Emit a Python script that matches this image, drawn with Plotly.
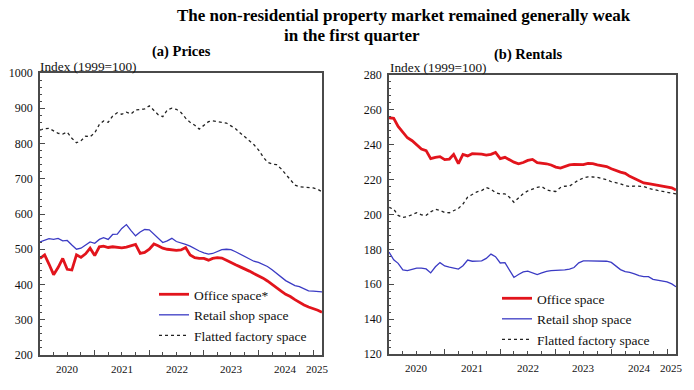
import pandas as pd
import plotly.graph_objects as go

# ---------------- data ----------------
MONTHS = pd.date_range("2020-01-01", periods=63, freq="MS")

price_office = [474, 484, 458, 428, 448, 474, 443, 441, 484, 477, 487, 503, 482, 507, 509, 505,
                507, 505, 504, 506, 509, 514, 488, 491, 500, 515, 510, 503, 500, 498, 497, 498,
                505, 484, 476, 474, 474, 469, 474, 476, 475, 469, 462, 456, 450, 445, 438, 431,
                425, 418, 410, 401, 391, 381, 372, 366, 357, 349, 342, 336, 332, 327, 321]
price_retail = [521, 526, 530, 528, 531, 524, 525, 512, 500, 503, 512, 521, 517, 528, 533, 528,
                542, 543, 559, 570, 553, 538, 549, 556, 555, 543, 530, 519, 524, 531, 522, 519,
                514, 509, 501, 495, 490, 486, 488, 494, 499, 500, 499, 493, 486, 478, 471, 466,
                463, 457, 451, 442, 431, 420, 411, 404, 397, 394, 388, 382, 381, 380, 379]
price_factory = [838, 842, 843, 836, 829, 827, 832, 815, 802, 808, 821, 819, 830, 854, 864, 860,
                 878, 887, 883, 889, 884, 895, 897, 898, 907, 895, 882, 876, 895, 900, 897, 888,
                 872, 860, 852, 841, 852, 862, 864, 862, 861, 858, 850, 842, 830, 820, 808, 797,
                 782, 762, 747, 742, 740, 728, 712, 697, 682, 677, 676, 675, 674, 670, 663]

rent_office = [255.5, 255.2, 250.5, 247.0, 244.0, 242.3, 240.2, 237.5, 236.6, 232.0, 232.8, 233.2,
               231.5, 231.8, 234.5, 229.2, 234.5, 233.6, 234.9, 234.8, 234.6, 234.1, 234.5, 235.6,
               232.0, 232.8, 231.3, 230.0, 229.1, 229.8, 231.0, 231.6, 229.7, 229.5, 229.1, 228.4,
               227.2, 226.6, 227.5, 228.4, 228.7, 228.6, 228.6, 229.3, 229.2, 228.5, 227.9, 227.5,
               226.2, 225.0, 224.3, 223.6, 221.9, 220.7, 219.2, 218.1, 217.7, 217.3, 216.8, 216.5,
               216.1, 215.3, 214.0]
rent_retail = [178.5, 174.0, 172.0, 168.2, 167.8, 168.6, 169.2, 169.2, 168.8, 166.5, 170.0, 172.4,
               170.5, 169.8, 169.2, 168.7, 170.6, 173.9, 173.2, 173.2, 173.4, 174.8, 177.3, 175.8,
               172.2, 172.4, 168.2, 163.9, 165.6, 167.1, 167.5, 166.5, 165.6, 166.5, 167.4, 167.8,
               167.8, 167.8, 168.2, 168.7, 169.6, 172.3, 173.4, 173.4, 173.4, 173.4, 173.3, 173.2,
               172.5, 170.4, 168.4, 167.2, 166.8, 165.9, 164.9, 164.4, 164.4, 162.8, 162.2, 162.0,
               161.3, 160.2, 158.6]
rent_factory = [204.1, 203.0, 199.5, 198.3, 198.8, 199.7, 201.0, 199.8, 199.5, 201.5, 203.0, 202.3,
                201.2, 201.0, 202.0, 203.5, 206.0, 210.0, 211.5, 213.0, 213.7, 215.4, 214.5, 212.5,
                211.8, 211.8, 210.0, 207.0, 209.5, 212.0, 213.5, 214.4, 215.6, 216.0, 214.2, 213.5,
                213.2, 215.5, 216.2, 216.3, 218.2, 219.8, 220.9, 221.6, 221.5, 221.3, 220.6, 220.0,
                218.8, 218.2, 217.6, 216.5, 216.1, 216.3, 216.4, 216.1, 215.0, 214.6, 213.8, 213.3,
                212.9, 212.3, 211.8]

YEAR_LABELS = ["2020", "2021", "2022", "2023", "2024", "2025"]
PRICE_TICKS = [200, 300, 400, 500, 600, 700, 800, 900, 1000]
RENT_TICKS = [120, 140, 160, 180, 200, 220, 240, 260, 280]

# ---------------- styling ----------------
FONT = "Liberation Serif"
RED = "#e2141c"
BLUE = "#3b3bc4"
BLACK = "#222222"
AXC = "#4a4a4a"
W, H = 694, 390

X0, X1 = pd.Timestamp("2020-01-01"), pd.Timestamp("2025-03-01")

fig = go.Figure()

def add_series(xa, ya, leg, office, retail, factory, office_name):
    fig.add_trace(go.Scatter(x=MONTHS, y=office, mode="lines", name=office_name,
                             line=dict(color=RED, width=2.8), xaxis=xa, yaxis=ya, legend=leg))
    fig.add_trace(go.Scatter(x=MONTHS, y=retail, mode="lines", name="Retail shop space",
                             line=dict(color=BLUE, width=1.3), xaxis=xa, yaxis=ya, legend=leg))
    fig.add_trace(go.Scatter(x=MONTHS, y=factory, mode="lines", name="Flatted factory space",
                             line=dict(color=BLACK, width=1.3, dash="3px,3px"),
                             xaxis=xa, yaxis=ya, legend=leg))

add_series("x", "y", "legend", price_office, price_retail, price_factory, "Office space*")
add_series("x2", "y2", "legend2", rent_office, rent_retail, rent_factory, "Office space")

def xax(domain, anchor):
    return dict(domain=domain, anchor=anchor, type="date", range=[X0, X1], automargin=False,
                showline=True, linecolor=AXC, linewidth=1.5, mirror=True,
                showgrid=False, zeroline=False,
                tickmode="array", tickvals=[f"{y}-01-01" for y in YEAR_LABELS[1:]],
                ticks="inside", ticklen=5, tickcolor=AXC, showticklabels=False,
                minor=dict(ticks="inside", ticklen=3, tickcolor=AXC, dtick="M3",
                           tick0="2020-01-01", showgrid=False))

def yax(domain, anchor, rng, vals, minor_dtick):
    return dict(domain=domain, anchor=anchor, range=rng, tickmode="array", tickvals=vals,
                automargin=False,
                showline=True, linecolor=AXC, linewidth=1.5, mirror=True,
                showgrid=False, zeroline=False,
                ticks="inside", ticklen=5, tickcolor=AXC, ticklabelstandoff=3,
                tickfont=dict(family=FONT, size=12, color="#111"),
                minor=dict(ticks="inside", ticklen=2.5, tickcolor=AXC, dtick=minor_dtick,
                           showgrid=False))

LX = [40 / W, 322 / W]
RX = [389 / W, 676 / W]
LY = [1 - 355 / H, 1 - 73 / H]
RY = [1 - 354 / H, 1 - 75 / H]

annotations = []
# title
annotations.append(dict(text="<b>The non-residential property market remained generally weak</b>",
                         x=404 / W, y=1 - 16 / H, xref="paper", yref="paper", showarrow=False,
                         font=dict(family=FONT, size=17, color="#000"), xanchor="center", yanchor="middle"))
annotations.append(dict(text="<b>in the first quarter</b>",
                         x=352 / W, y=1 - 35 / H, xref="paper", yref="paper", showarrow=False,
                         font=dict(family=FONT, size=17, color="#000"), xanchor="center", yanchor="middle"))
annotations.append(dict(text="<b>(a) Prices</b>", x=181 / W, y=1 - 52 / H, xref="paper", yref="paper",
                         showarrow=False, font=dict(family=FONT, size=14.5, color="#000"),
                         xanchor="center", yanchor="middle"))
annotations.append(dict(text="<b>(b) Rentals</b>", x=528 / W, y=1 - 55 / H, xref="paper", yref="paper",
                         showarrow=False, font=dict(family=FONT, size=14.5, color="#000"),
                         xanchor="center", yanchor="middle"))
annotations.append(dict(text="Index (1999=100)", x=38 / W, y=1 - 66 / H, xref="paper", yref="paper",
                         showarrow=False, font=dict(family=FONT, size=13.3, color="#111"),
                         xanchor="left", yanchor="middle"))
annotations.append(dict(text="Index (1999=100)", x=388 / W, y=1 - 67 / H, xref="paper", yref="paper",
                         showarrow=False, font=dict(family=FONT, size=13.3, color="#111"),
                         xanchor="left", yanchor="middle"))

# year labels centred in each (visible) year interval
for xr, ybot in (("x", 1 - 369 / H), ("x2", 1 - 368 / H)):
    for lab in YEAR_LABELS:
        a = max(pd.Timestamp(f"{lab}-01-01"), X0)
        b = min(pd.Timestamp(f"{int(lab) + 1}-01-01"), X1)
        mid = a + (b - a) / 2
        annotations.append(dict(text=lab, x=mid, y=ybot, xref=xr, yref="paper", showarrow=False,
                                font=dict(family=FONT, size=11, color="#111"),
                                xanchor="center", yanchor="middle"))

leg_common = dict(bgcolor="rgba(0,0,0,0)", borderwidth=0, font=dict(family=FONT, size=13.5, color="#111"),
                  itemwidth=30, tracegroupgap=0, xanchor="left", yanchor="top")

fig.update_layout(
    width=W, height=H, margin=dict(l=0, r=0, t=0, b=0, autoexpand=False),
    paper_bgcolor="white", plot_bgcolor="white",
    font=dict(family=FONT, color="#111"),
    xaxis=xax(LX, "y"), yaxis=yax(LY, "x", [200, 1000], PRICE_TICKS, 20),
    xaxis2=xax(RX, "y2"), yaxis2=yax(RY, "x2", [120, 280], RENT_TICKS, 4),
    legend=dict(x=154 / W, y=1 - 279 / H, **leg_common),
    legend2=dict(x=497 / W, y=1 - 283 / H, **leg_common),
    annotations=annotations,
)

fig.write_html("out.html", config={"displayModeBar": False},
               post_script="document.body.style.margin='0px';")
